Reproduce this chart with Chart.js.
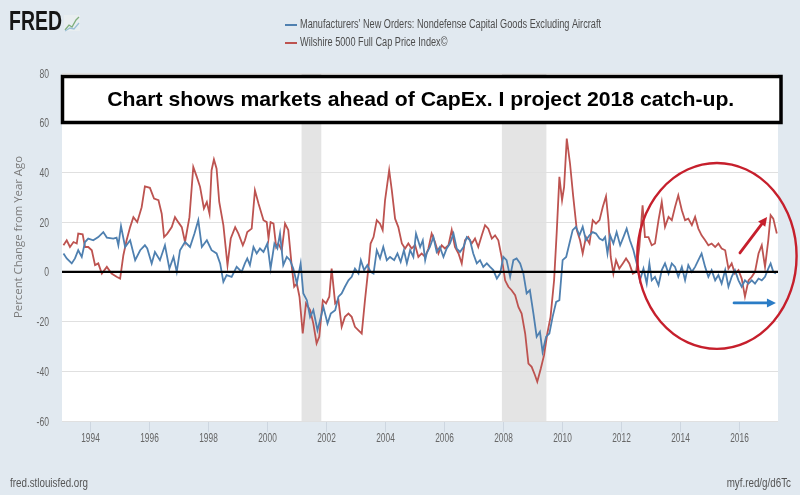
<!DOCTYPE html>
<html>
<head>
<meta charset="utf-8">
<script src="https://cdn.jsdelivr.net/npm/chart.js@4.4.1/dist/chart.umd.min.js"></script>
<style>
html,body{margin:0;padding:0;background:#e1e9f0;}
canvas{display:block;}
</style>
</head>
<body>
<canvas id="c" width="800" height="495"></canvas>
<script>
// ---------- DATA ----------
const capexLabel = "Manufacturers' New Orders: Nondefense Capital Goods Excluding Aircraft";
const wilshireLabel = "Wilshire 5000 Full Cap Price Index\u00A9";

const capexDates = [
1993.10,1993.21,1993.38,1993.49,1993.60,1993.72,1993.83,1993.94,1994.11,1994.28,1994.45,1994.57,1994.79,1994.90,1994.96,
1995.05,1995.19,1995.36,1995.53,1995.70,1995.86,1995.94,1996.09,1996.20,1996.37,1996.54,1996.69,1996.83,1996.94,
1997.05,1997.22,1997.39,1997.54,1997.67,1997.79,1997.96,1998.12,1998.29,1998.41,1998.52,1998.63,1998.80,1998.97,
1999.14,1999.25,1999.33,1999.42,1999.54,1999.65,1999.76,1999.88,2000.01,2000.12,2000.25,2000.35,2000.44,2000.55,
2000.67,2000.78,2000.89,2001.01,2001.14,2001.23,2001.35,2001.46,2001.57,2001.71,2001.80,2001.91,2002.05,2002.16,
2002.31,2002.42,2002.53,2002.64,2002.76,2002.87,2002.98,2003.10,2003.18,2003.29,2003.40,2003.51,2003.61,2003.72,
2003.83,2003.94,2004.06,2004.17,2004.31,2004.42,2004.53,2004.64,2004.74,2004.85,2004.96,2005.05,2005.19,2005.28,
2005.36,2005.41,2005.52,2005.64,2005.75,2005.86,2005.98,2006.09,2006.20,2006.32,2006.43,2006.54,2006.66,2006.77,
2006.88,2006.99,2007.11,2007.22,2007.33,2007.45,2007.56,2007.67,2007.79,2007.90,2008.01,2008.12,2008.24,2008.35,
2008.46,2008.58,2008.69,2008.80,2008.91,2009.03,2009.14,2009.25,2009.34,2009.46,2009.57,2009.68,2009.80,2009.91,
2010.02,2010.14,2010.25,2010.36,2010.47,2010.59,2010.70,2010.81,2010.93,2011.04,2011.15,2011.27,2011.38,2011.46,
2011.54,2011.63,2011.74,2011.85,2011.97,2012.08,2012.19,2012.30,2012.42,2012.53,2012.64,2012.76,2012.87,2012.96,
2013.04,2013.15,2013.27,2013.38,2013.49,2013.61,2013.72,2013.83,2013.94,2014.06,2014.17,2014.28,2014.40,2014.51,
2014.62,2014.73,2014.85,2014.96,2015.07,2015.19,2015.30,2015.41,2015.53,2015.64,2015.75,2015.86,2015.98,2016.09,
2016.20,2016.32,2016.43,2016.54,2016.66,2016.77,2016.88,2016.99,2017.07,2017.16,2017.25];
const capexValues = [
7.4,5.4,3.4,5.4,8.7,6.0,12.0,13.4,12.7,14.0,16.0,13.8,13.4,13.8,10.7,
18.4,10.0,12.7,4.7,8.7,10.7,9.4,3.4,8.0,4.7,10.7,1.3,6.0,0.0,
8.7,12.0,10.0,15.4,20.8,10.0,12.7,8.7,7.4,3.4,-4.0,-1.3,-2.0,2.0,
0.0,3.4,5.4,2.7,10.0,7.4,9.4,8.0,11.4,1.3,11.4,9.4,15.4,2.7,
6.0,4.7,1.3,-4.7,3.4,-8.7,-11.4,-18.1,-15.4,-23.5,-19.4,-14.1,-20.8,-16.8,
-15.4,-10.0,-8.7,-6.0,-3.4,-2.0,1.3,-0.7,4.7,0.7,2.7,0.0,-0.7,8.7,
5.4,10.0,4.7,6.0,4.7,7.4,4.0,8.7,3.4,8.7,6.0,15.4,10.0,12.7,
4.7,7.4,10.0,14.0,8.0,10.0,6.0,9.4,11.4,15.4,9.4,8.0,10.0,14.0,
12.7,7.4,3.4,4.7,2.0,3.4,2.0,0.7,-2.7,-0.7,6.0,4.7,-2.0,4.7,
5.4,3.4,-0.7,-8.7,-7.4,-16.8,-26.1,-24.1,-32.2,-26.1,-24.8,-18.1,-12.1,-11.4,
4.7,6.0,11.4,16.8,18.1,14.7,18.1,12.7,14.7,16.0,15.4,13.4,12.7,14.0,
7.4,14.7,11.4,16.0,10.7,14.0,17.4,12.7,8.7,3.4,-3.4,1.3,-4.7,3.4,
-3.4,-2.0,-5.4,0.7,3.4,-0.7,3.4,2.0,-2.0,2.0,-3.4,2.7,0.0,2.0,
4.7,7.4,2.0,-2.0,0.7,-3.4,-1.3,-4.7,0.7,-6.0,-2.0,0.7,-3.4,-6.0,
-3.4,-4.7,-3.4,-4.7,-2.7,-3.4,-2.0,1.3,3.4,0.0,-0.7];

const wilshireDates = [
1993.10,1993.21,1993.32,1993.44,1993.55,1993.60,1993.75,1993.83,1993.94,1994.06,1994.17,1994.28,1994.40,1994.57,1994.73,
1994.90,1995.02,1995.13,1995.24,1995.36,1995.47,1995.60,1995.75,1995.86,1996.03,1996.17,1996.32,1996.43,1996.51,
1996.62,1996.77,1996.88,1996.99,1997.11,1997.22,1997.37,1997.50,1997.62,1997.73,1997.86,1997.96,1998.05,1998.12,
1998.20,1998.29,1998.38,1998.52,1998.66,1998.77,1998.92,1999.03,1999.18,1999.25,1999.33,1999.48,1999.59,1999.71,
1999.88,1999.99,2000.05,2000.12,2000.22,2000.31,2000.38,2000.50,2000.61,2000.72,2000.84,2000.92,2001.01,2001.10,
2001.21,2001.32,2001.46,2001.57,2001.68,2001.77,2001.89,2002.00,2002.11,2002.19,2002.31,2002.42,2002.53,2002.64,
2002.76,2002.87,2002.98,2003.10,2003.21,2003.32,2003.44,2003.51,2003.61,2003.72,2003.83,2003.92,2004.00,2004.14,
2004.23,2004.34,2004.45,2004.57,2004.68,2004.79,2004.90,2005.02,2005.13,2005.24,2005.36,2005.47,2005.58,2005.69,
2005.81,2005.92,2006.03,2006.15,2006.26,2006.37,2006.49,2006.60,2006.71,2006.82,2006.94,2007.05,2007.16,2007.28,
2007.39,2007.50,2007.62,2007.73,2007.84,2007.95,2008.07,2008.18,2008.29,2008.41,2008.52,2008.63,2008.75,2008.86,
2008.97,2009.08,2009.16,2009.28,2009.39,2009.50,2009.61,2009.73,2009.82,2009.91,2010.00,2010.07,2010.16,2010.27,
2010.38,2010.50,2010.61,2010.70,2010.81,2010.93,2011.04,2011.15,2011.27,2011.38,2011.49,2011.57,2011.65,2011.74,
2011.83,2011.94,2012.06,2012.17,2012.28,2012.40,2012.51,2012.62,2012.73,2012.81,2012.93,2013.04,2013.15,2013.27,
2013.38,2013.49,2013.61,2013.72,2013.83,2013.94,2014.06,2014.17,2014.28,2014.40,2014.51,2014.62,2014.73,2014.85,
2014.96,2015.07,2015.19,2015.30,2015.41,2015.53,2015.64,2015.75,2015.86,2015.98,2016.09,2016.20,2016.32,2016.43,
2016.54,2016.66,2016.77,2016.88,2016.99,2017.07,2017.16,2017.28];
const wilshireValues = [
10.7,12.7,10.0,12.0,11.4,15.4,15.1,10.0,10.0,8.7,2.7,3.4,-0.7,2.0,-0.7,
-2.0,-2.7,6.7,12.7,18.0,22.0,20.0,26.0,34.4,33.8,29.5,28.8,23.4,14.0,
15.4,18.0,22.0,20.0,18.0,12.0,22.0,42.2,38.2,34.2,25.5,28.1,23.4,40.9,
45.2,41.5,28.1,18.8,2.7,13.4,18.0,15.4,10.7,12.7,16.0,17.4,32.8,27.5,
20.8,20.0,13.4,20.0,19.4,10.0,11.4,8.7,19.4,16.8,2.0,-6.0,-4.7,-10.0,
-24.8,-12.7,-15.4,-20.8,-28.8,-26.1,-11.4,-12.7,-10.0,1.3,-12.7,-11.4,-22.1,-18.1,
-16.8,-18.1,-22.1,-23.5,-24.8,-11.4,2.0,11.4,14.0,20.8,19.4,16.8,28.8,40.9,
32.8,21.4,18.0,11.4,9.4,11.4,9.4,10.7,6.0,7.4,6.0,9.4,15.4,12.1,
7.4,10.7,9.4,10.7,16.8,10.0,7.4,3.4,12.7,14.0,11.4,13.4,10.0,14.7,
18.8,17.4,13.4,14.7,12.7,6.0,-3.4,-6.0,-7.4,-9.4,-14.1,-16.8,-24.8,-36.9,
-38.2,-41.5,-44.2,-38.9,-33.5,-24.8,-18.1,-3.4,16.1,38.2,28.8,34.2,53.6,43.6,
30.2,16.8,12.7,7.4,14.0,11.4,20.8,19.4,20.8,26.1,30.4,20.8,6.0,-0.7,
4.7,1.3,3.4,5.4,3.4,-0.7,0.0,10.0,26.8,14.0,14.0,10.7,11.4,20.8,
28.1,18.1,22.1,20.8,26.1,30.8,24.8,20.8,21.4,18.8,22.1,17.4,14.7,12.7,
10.7,11.4,10.0,11.4,9.4,8.7,1.3,3.4,-0.7,0.7,-2.7,-10.0,-3.4,-2.0,
0.0,7.4,10.7,2.0,12.7,22.8,21.4,15.4];

const xTickYears = [1994,1996,1998,2000,2002,2004,2006,2008,2010,2012,2014,2016];
const recessionStarts = [2001.17, 2007.96];
const recessionEnds   = [2001.84, 2009.47];

const annotationText = "Chart shows markets ahead of CapEx. I project 2018 catch-up.";
const yAxisTitle = "Percent Change from Year Ago";
const sourceLeft = "fred.stlouisfed.org";
const sourceRight = "myf.red/g/d6Tc";
const logoText = "FRED";
// hand-drawn annotation (data coordinates: year, percent)
const circleCenter = [2015.25, 6.4];
const circleRadii = [2.7, 37.4];
const redArrow = [[2016.03, 7.6], [2016.95, 22.1]];
const blueArrow = [[2015.83, -12.5], [2017.25, -12.5]];

// ---------- STYLE ----------
const BG = '#e1e9f0';
const BLUE = '#4f80b0';
const RED = '#bd5350';
const SANS = '"Liberation Sans", Arial, sans-serif';

function txt(ctx, s, x, y, font, color, align, sx, rot) {
  ctx.save();
  ctx.font = font; ctx.fillStyle = color; ctx.textAlign = align; ctx.textBaseline = 'middle';
  ctx.translate(x, y);
  if (rot) ctx.rotate(rot);
  ctx.scale(sx, 1);
  ctx.fillText(s, 0, 0);
  ctx.restore();
}
function fitScale(ctx, s, font, w) {
  ctx.save(); ctx.font = font; const m = ctx.measureText(s).width; ctx.restore();
  return w / m;
}

function arrow(ctx, x0, y0, x1, y1, color, w, head) {
  const ang = Math.atan2(y1 - y0, x1 - x0);
  const bx = x1 - head * Math.cos(ang), by = y1 - head * Math.sin(ang);
  ctx.strokeStyle = color; ctx.fillStyle = color; ctx.lineWidth = w; ctx.lineCap = 'round';
  ctx.beginPath(); ctx.moveTo(x0, y0); ctx.lineTo(bx, by); ctx.stroke();
  ctx.beginPath();
  ctx.moveTo(x1, y1);
  ctx.lineTo(bx + head * 0.5 * Math.sin(ang), by - head * 0.5 * Math.cos(ang));
  ctx.lineTo(bx - head * 0.5 * Math.sin(ang), by + head * 0.5 * Math.cos(ang));
  ctx.closePath(); ctx.fill();
}

const decor = {
  id: 'decor',
  beforeDraw(chart) {
    const {ctx, chartArea: a, scales: {x}} = chart;
    ctx.save();
    ctx.fillStyle = BG; ctx.fillRect(0, 0, chart.width, chart.height);
    ctx.fillStyle = '#ffffff'; ctx.fillRect(a.left, a.top, a.right - a.left, a.bottom - a.top);
    ctx.fillStyle = '#e4e4e4';
    recessionStarts.forEach((s, i) => {
      const x0 = x.getPixelForValue(s), x1 = x.getPixelForValue(recessionEnds[i]);
      ctx.fillRect(x0, a.top, x1 - x0, a.bottom - a.top);
    });
    ctx.restore();
  },
  afterDatasetsDraw(chart) {
    const {ctx, chartArea: a, scales: {x, y}} = chart;
    ctx.save();
    const y0 = y.getPixelForValue(0);
    ctx.strokeStyle = '#000'; ctx.lineWidth = 2.2;
    ctx.beginPath(); ctx.moveTo(a.left, y0); ctx.lineTo(a.right, y0); ctx.stroke();
    const cx = x.getPixelForValue(circleCenter[0]), cy = y.getPixelForValue(circleCenter[1]);
    const rx = x.getPixelForValue(circleCenter[0] + circleRadii[0]) - cx;
    const ry = cy - y.getPixelForValue(circleCenter[1] + circleRadii[1]);
    ctx.strokeStyle = '#c61f2c'; ctx.lineWidth = 2.4;
    ctx.beginPath(); ctx.ellipse(cx, cy, rx, ry, 0, 0, Math.PI * 2); ctx.stroke();
    arrow(ctx, x.getPixelForValue(redArrow[0][0]), y.getPixelForValue(redArrow[0][1]),
               x.getPixelForValue(redArrow[1][0]), y.getPixelForValue(redArrow[1][1]), '#c61f2c', 2.8, 9);
    arrow(ctx, x.getPixelForValue(blueArrow[0][0]), y.getPixelForValue(blueArrow[0][1]),
               x.getPixelForValue(blueArrow[1][0]), y.getPixelForValue(blueArrow[1][1]), '#2a7cc6', 2.8, 9);
    ctx.restore();
  },
  afterDraw(chart) {
    const {ctx, chartArea: a, scales: {x, y}} = chart;
    ctx.save();
    // axis tick labels (condensed look)
    const tickFont = '13px ' + SANS;
    y.ticks.forEach(t => {
      txt(ctx, String(t.value), a.left - 13, y.getPixelForValue(t.value) + 1, tickFont, '#666', 'right', 0.66);
    });
    ctx.strokeStyle = '#cdd6e0'; ctx.lineWidth = 1;
    x.ticks.forEach(t => {
      const px = Math.round(x.getPixelForValue(t.value)) + 0.5;
      ctx.beginPath(); ctx.moveTo(px, a.bottom + 1); ctx.lineTo(px, a.bottom + 11); ctx.stroke();
      txt(ctx, String(t.value), px, a.bottom + 17, tickFont, '#666', 'center', 0.64);
    });
    // y-axis title
    const tf = '11px "Open Sans", sans-serif';
    txt(ctx, yAxisTitle, 19, 237, tf, '#7a7a7a', 'center', fitScale(ctx, yAxisTitle, tf, 162), -Math.PI / 2);
    // annotation box
    const bl = a.left + 0.5, br = a.right + 3, bt = a.top + 3.5, bb = a.top + 49.5;
    ctx.fillStyle = '#fff'; ctx.fillRect(bl, bt, br - bl, bb - bt);
    ctx.strokeStyle = '#000'; ctx.lineWidth = 3.5; ctx.strokeRect(bl, bt, br - bl, bb - bt);
    const af = 'bold 21px ' + SANS;
    txt(ctx, annotationText, (bl + br) / 2 - 1, (bt + bb) / 2 + 1, af, '#000', 'center', fitScale(ctx, annotationText, af, 627));
    // legend
    const lf = '12px ' + SANS;
    const lsx = fitScale(ctx, capexLabel, lf, 301);
    chart.data.datasets.forEach((ds, i) => {
      const ly = 25 + i * 18;
      ctx.strokeStyle = ds.borderColor; ctx.lineWidth = 2;
      ctx.beginPath(); ctx.moveTo(285, ly); ctx.lineTo(297, ly); ctx.stroke();
      txt(ctx, ds.label, 300, ly, lf, '#4d4d4d', 'left', lsx);
    });
    // logo
    const gf = 'bold 27px ' + SANS;
    txt(ctx, logoText, 9, 23, gf, '#161616', 'left', fitScale(ctx, logoText, gf, 53));
    ctx.fillStyle = '#e9eef0'; ctx.fillRect(64, 15, 16, 16);
    ctx.strokeStyle = '#7fae7c'; ctx.lineWidth = 1.3;
    ctx.beginPath(); ctx.moveTo(65, 30); ctx.lineTo(69, 25); ctx.lineTo(72, 27); ctx.lineTo(76, 20); ctx.lineTo(79, 17); ctx.stroke();
    ctx.strokeStyle = '#9cc0d6';
    ctx.beginPath(); ctx.moveTo(65, 31); ctx.lineTo(70, 28); ctx.lineTo(74, 29); ctx.lineTo(79, 23); ctx.stroke();
    // footer
    const ff = '12px ' + SANS;
    const fsx = fitScale(ctx, sourceLeft, ff, 78);
    txt(ctx, sourceLeft, 10, 484, ff, '#555', 'left', fsx);
    txt(ctx, sourceRight, 791, 484, ff, '#555', 'right', fsx);
    ctx.restore();
  }
};

new Chart(document.getElementById('c'), {
  type: 'line',
  data: {
    datasets: [
      { label: capexLabel, data: capexDates.map((d, i) => ({x: d, y: capexValues[i]})),
        borderColor: BLUE, borderWidth: 1.8, pointRadius: 0, tension: 0, fill: false },
      { label: wilshireLabel, data: wilshireDates.map((d, i) => ({x: d, y: wilshireValues[i]})),
        borderColor: RED, borderWidth: 1.8, pointRadius: 0, tension: 0, fill: false }
    ]
  },
  options: {
    responsive: false,
    animation: false,
    devicePixelRatio: 1,
    layout: { padding: { left: 0, right: 22, top: 73, bottom: 44 } },
    plugins: { legend: { display: false }, tooltip: { enabled: false } },
    scales: {
      x: {
        type: 'linear', min: 1993.05, max: 2017.32,
        afterBuildTicks(s) { s.ticks = xTickYears.map(v => ({value: v})); },
        afterFit(s) { s.height = 30; },
        ticks: { display: false },
        grid: { display: false },
        border: { display: false }
      },
      y: {
        min: -60, max: 80,
        afterFit(s) { s.width = 62; },
        ticks: { stepSize: 20, display: false },
        grid: { drawTicks: false, color: ctx => ctx.tick && ctx.tick.value === 0 ? 'rgba(0,0,0,0)' : '#e0e0e0', lineWidth: 1 },
        border: { display: false }
      }
    }
  },
  plugins: [decor]
});
</script>
</body>
</html>
